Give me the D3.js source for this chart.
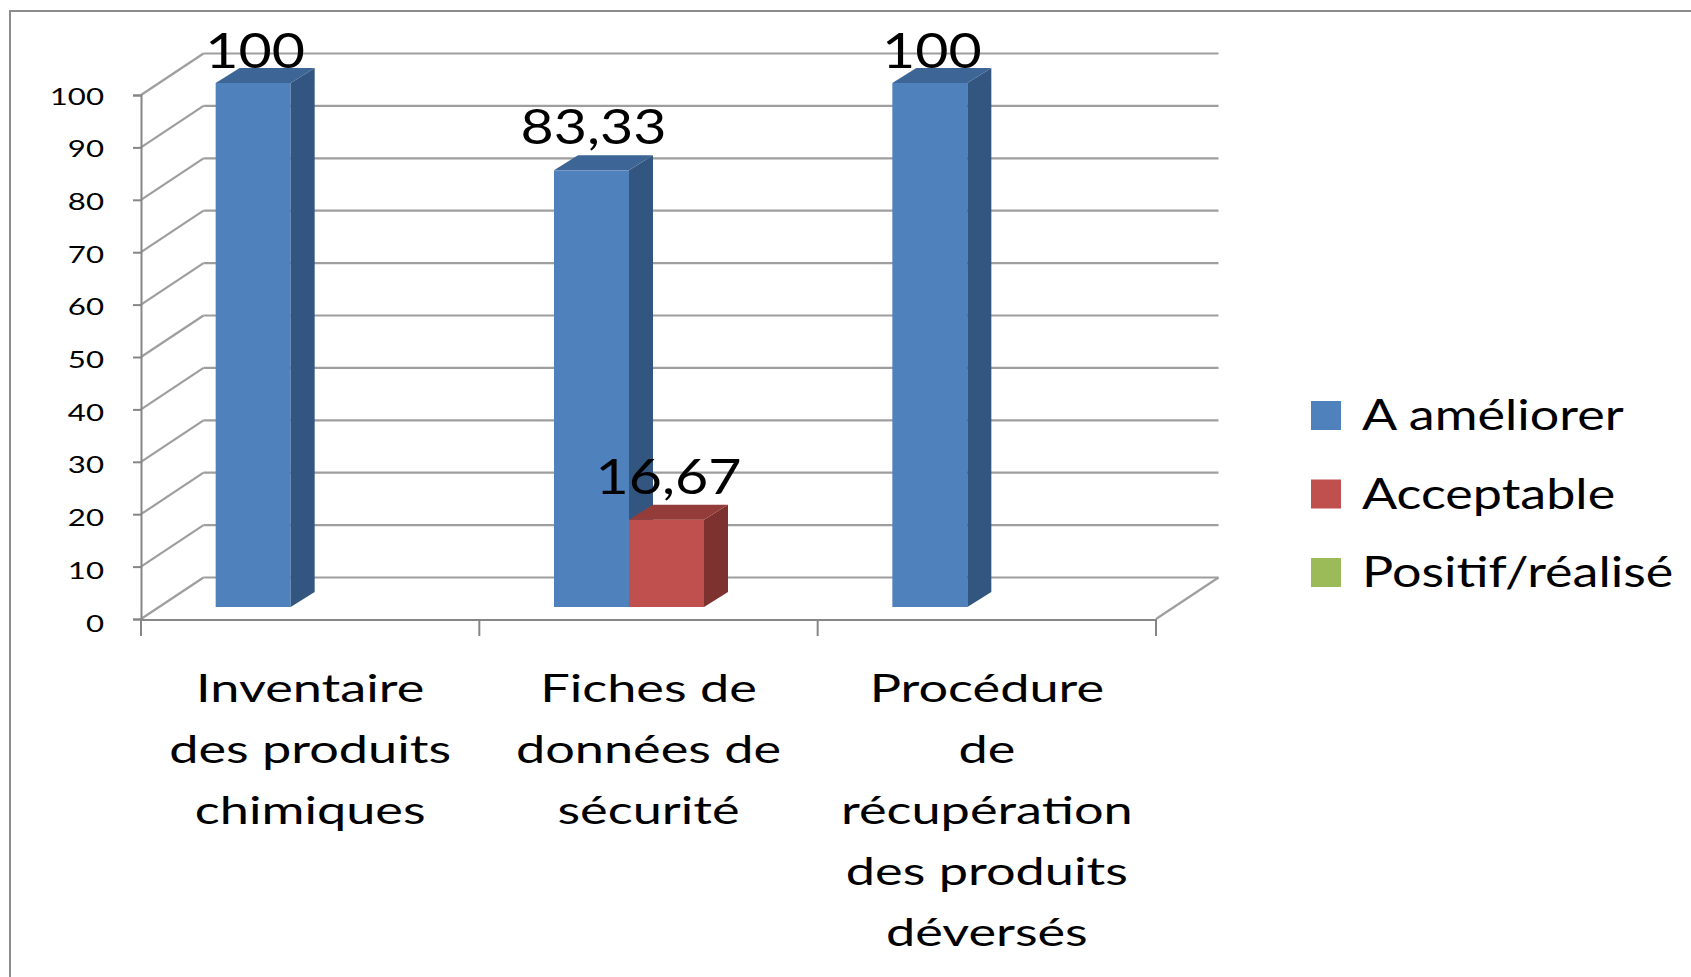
<!DOCTYPE html>
<html>
<head>
<meta charset="utf-8">
<script src="https://cdn.jsdelivr.net/npm/d3@7"></script>
<style>
  body { margin: 0; background: #fff; }
  text { font-family: Lato, "Open Sans", sans-serif; fill: #000; }
</style>
</head>
<body>
<svg id="chart" width="1691" height="977"></svg>
<script>
// data
const categories = ["Inventaire des produits chimiques", "Fiches de données de sécurité", "Procédure de récupération des produits déversés"];
const categoryLines = [
  ["Inventaire", "des produits", "chimiques"],
  ["Fiches de", "données de", "sécurité"],
  ["Procédure", "de", "récupération", "des produits", "déversés"]
];
const series = ["A améliorer", "Acceptable", "Positif/réalisé"];
const aAmeliorer = [100, 83.33, 100];
const acceptable = [0, 16.67, 0];
const positifRealise = [0, 0, 0];
const yTicks = [0, 10, 20, 30, 40, 50, 60, 70, 80, 90, 100];

const seriesValues = [aAmeliorer, acceptable, positifRealise];
const colors = [
  {front: "#4f81bd", side: "#335681", top: "#3d6595"},
  {front: "#c0504d", side: "#7e3230", top: "#943c3a"},
  {front: "#9bbb59", side: "#667c3a", top: "#7a9446"}
];

const svg = d3.select("#chart");

// 3d-ish depth: floor front -> back wall, and front -> bar plane
const wall = {dx: 62.5, dy: -41.5};
const barPlane = {dx: 18, dy: -12};
const barDepth = {dx: 24, dy: -15};
const barWidth = 75;

const x0 = d3.scaleBand().domain(categories).range([141, 1156]).padding(0);
const x1 = d3.scaleBand().domain(series).range([-barWidth * 1.5, barWidth * 1.5]).padding(0);
const y = d3.scaleLinear().domain([0, 100]).range([619, 95]);

const stretch = (sel, sx) => sel.attr("transform", function() {
  return "translate(" + this.getAttribute("data-x") + "," + this.getAttribute("data-y") + ") scale(" + sx + ",1)";
});

// outer frame
svg.append("path")
  .attr("d", "M10,977 L10,11 L1691,11")
  .attr("fill", "none").attr("stroke", "#8c8c8c").attr("stroke-width", 2);

// gridlines: side wall diagonals + back wall
const grid = svg.append("g").attr("stroke", "#9e9e9e").attr("stroke-width", 2.2).attr("fill", "none");
grid.selectAll("path.diag").data(yTicks).enter().append("path")
  .attr("d", d => "M141," + y(d) + " L" + (141 + wall.dx) + "," + (y(d) + wall.dy));
grid.selectAll("path.back").data(yTicks).enter().append("path")
  .attr("d", d => "M" + (141 + wall.dx) + "," + (y(d) + wall.dy) + " L" + (1156 + wall.dx) + "," + (y(d) + wall.dy));
// floor right edge
grid.append("path")
  .attr("d", "M1156," + y(0) + " L" + (1156 + wall.dx) + "," + (y(0) + wall.dy));

// y axis
const yAxis = svg.append("g")
  .attr("transform", "translate(141,0)")
  .call(d3.axisLeft(y).tickValues(yTicks).tickSize(8).tickPadding(0));
yAxis.select(".domain").attr("stroke", "#868686").attr("stroke-width", 2);
yAxis.selectAll(".tick line").attr("stroke", "#868686").attr("stroke-width", 2);
yAxis.selectAll(".tick text")
  .attr("x", null).attr("dy", null)
  .attr("data-x", -37).attr("data-y", d => 10 + d * -0.03 + 2)
  .attr("font-size", 24)
  .attr("text-anchor", "end")
  .call(stretch, 1.3);

// x axis line + boundary ticks
const xAxis = svg.append("g").attr("stroke", "#868686").attr("stroke-width", 2);
xAxis.append("path").attr("d", "M141," + (y(0) + 1) + " L1156," + (y(0) + 1));
const bounds = categories.map(c => x0(c)).concat([x0.range()[1]]);
xAxis.selectAll("line").data(bounds).enter().append("line")
  .attr("x1", d => d).attr("x2", d => d)
  .attr("y1", y(0)).attr("y2", y(0) + 17);

// category labels
const catG = svg.append("g");
categories.forEach((c, i) => {
  const cx = x0(c) + x0.bandwidth() / 2;
  catG.selectAll("text.c" + i).data(categoryLines[i]).enter().append("text")
    .attr("class", "c" + i)
    .attr("text-anchor", "middle")
    .attr("font-size", 39)
    .attr("data-x", cx)
    .attr("data-y", (d, j) => 702 + j * 61)
    .text(d => d)
    .call(stretch, 1.34);
});

// bars
const bars = [];
categories.forEach((c, i) => {
  series.forEach((s, k) => {
    const v = seriesValues[k][i];
    if (v > 0) bars.push({cat: c, s: s, k: k, v: v});
  });
});

const barG = svg.append("g");
bars.forEach(b => {
  const xl = x0(b.cat) + x0.bandwidth() / 2 + barPlane.dx + x1(b.s);
  const xr = xl + x1.bandwidth();
  const top = y(b.v) + barPlane.dy;
  const bot = y(0) + barPlane.dy;
  const col = colors[b.k];
  const g = barG.append("g");
  g.append("rect")
    .attr("x", xl).attr("y", top)
    .attr("width", xr - xl).attr("height", bot - top)
    .attr("fill", col.front);
  g.append("path")
    .attr("d", "M" + xr + "," + top + " L" + (xr + barDepth.dx) + "," + (top + barDepth.dy) +
      " L" + (xr + barDepth.dx) + "," + (bot + barDepth.dy) + " L" + xr + "," + bot + "Z")
    .attr("fill", col.side);
  g.append("path")
    .attr("d", "M" + xl + "," + top + " L" + (xl + barDepth.dx) + "," + (top + barDepth.dy) +
      " L" + (xr + barDepth.dx) + "," + (top + barDepth.dy) + " L" + xr + "," + top + "Z")
    .attr("fill", col.top);
});

// data labels
const labelTop = 68;
svg.append("g").selectAll("text").data(bars).enter().append("text")
  .attr("text-anchor", "middle")
  .attr("font-size", 49)
  .attr("data-x", b => x0(b.cat) + x0.bandwidth() / 2 + barPlane.dx + x1(b.s) + x1.bandwidth() / 2 + 2)
  .attr("data-y", b => Math.max(y(b.v) + barPlane.dy + barDepth.dy - 11, labelTop))
  .text(b => String(b.v).replace(".", ","))
  .call(stretch, 1.17);

// legend
const legend = svg.append("g").attr("transform", "translate(1311,401)");
const li = legend.selectAll("g").data(series).enter().append("g")
  .attr("transform", (d, k) => "translate(0," + k * 78.5 + ")");
li.append("rect").attr("width", 30).attr("height", 29)
  .attr("fill", (d, k) => colors[k].front);
li.append("text")
  .attr("font-size", 42)
  .attr("data-x", 51).attr("data-y", 29)
  .text(d => d)
  .call(stretch, 1.24);
</script>
</body>
</html>
